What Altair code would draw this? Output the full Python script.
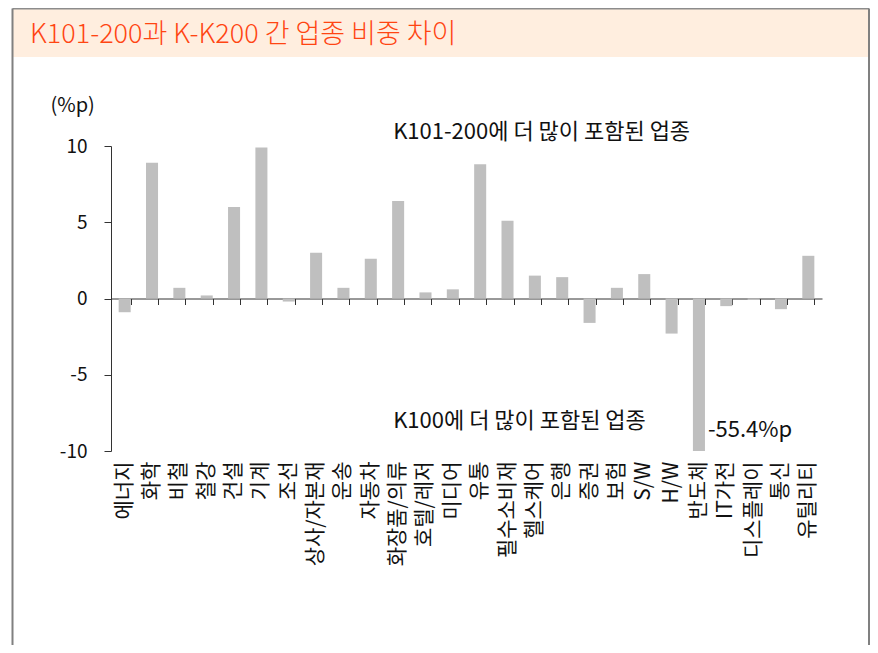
import altair as alt
import pandas as pd

title_text = "K101-200과 K-K200 간 업종 비중 차이"
categories = ["에너지", "화학", "비철", "철강", "건설", "기계", "조선", "상사/자본재", "운송",
              "자동차", "화장품/의류", "호텔/레저", "미디어", "유통", "필수소비재", "헬스케어",
              "은행", "증권", "보험", "S/W", "H/W", "반도체", "IT가전", "디스플레이", "통신", "유틸리티"]
values = [-0.9, 8.9, 0.7, 0.2, 6.0, 9.9, -0.2, 3.0, 0.7,
          2.6, 6.4, 0.4, 0.6, 8.8, 5.1, 1.5,
          1.4, -1.6, 0.7, 1.6, -2.3, -55.4, -0.5, -0.1, -0.7, 2.8]
y_ticks = [-10, -5, 0, 5, 10]

ann_text = ["K101-200에 더 많이 포함된 업종", "K100에 더 많이 포함된 업종", "-55.4%p"]
ann_cat = ["화장품/의류", "화장품/의류", "반도체"]
ann_val = [10.9, -8.0, -8.6]
ann_dx = [-5, -5, 9]

FONT = "Noto Sans CJK KR"
df = pd.DataFrame({"cat": categories, "value": values})
ann = pd.DataFrame({"cat": ann_cat, "value": ann_val, "text": ann_text, "dx": ann_dx})

W, H = 711, 305

y_enc = alt.Y("value:Q", scale=alt.Scale(domain=[-10, 10], nice=False, zero=False),
              axis=alt.Axis(values=y_ticks, title="(%p)", titleAngle=0, titleX=-61, titleY=-41,
                            titleAlign="left", titleBaseline="middle", titleFontSize=20,
                            titleFont=FONT, titleFontWeight="normal", titleColor="#111",
                            labelFont=FONT, labelFontSize=19, labelColor="#111",
                            labelExpr="'' + datum.value",
                            labelPadding=17, tickSize=7, tickColor="#333", domainColor="#333",
                            grid=False))

bars = alt.Chart(df).mark_bar(color="#BFBFBF", clip=True).encode(
    x=alt.X("cat:N", sort=categories, scale=alt.Scale(paddingInner=0.56, paddingOuter=0.28),
            axis=alt.Axis(orient="bottom", title=None, labelAngle=270, labelFont=FONT,
                          labelFontSize=21, labelColor="#111", labelPadding=10,
                          ticks=False, tickSize=0, domain=False, grid=False)),
    y=y_enc,
)

zero_axis = alt.Chart(df).mark_bar(opacity=0).encode(
    x=alt.X("cat:N", sort=categories,
            axis=alt.Axis(orient="bottom", offset=-H / 2, title=None, labels=False,
                          ticks=True, tickBand="extent", tickSize=6, tickColor="#333",
                          domain=True, domainColor="#333", grid=False)),
    y=y_enc,
)

ann_layers = []
for i in range(len(ann_text)):
    ann_layers.append(
        alt.Chart(ann.iloc[[i]]).mark_text(align="left", baseline="middle", font=FONT,
                                           fontSize=22, color="#111", dx=int(ann_dx[i])).encode(
            x=alt.X("cat:N", sort=categories, axis=None),
            y=y_enc,
            text="text:N",
        )
    )

one = alt.Data(values=[{}])
banner = alt.Chart(one).mark_rect(color="#FFEEDF").encode(
    x=alt.value(-98), x2=alt.value(758), y=alt.value(-137), y2=alt.value(-89))
frame_top = alt.Chart(one).mark_rule(color="#8C8C8C", strokeWidth=2).encode(
    x=alt.value(-98.5), x2=alt.value(758), y=alt.value(-137.5))
frame_left = alt.Chart(one).mark_rule(color="#808080", strokeWidth=2).encode(
    x=alt.value(-98.5), y=alt.value(-137.5), y2=alt.value(H + 194))
frame_right = alt.Chart(one).mark_rule(color="#808080", strokeWidth=2).encode(
    x=alt.value(758), y=alt.value(-137.5), y2=alt.value(H + 194))
title = alt.Chart(one).mark_text(text=title_text, align="left", baseline="middle",
                                 font=FONT, fontSize=27, fontWeight=300,
                                 color="#FF4512").encode(
    x=alt.value(-81), y=alt.value(-111))

chart = alt.layer(banner, frame_top, frame_left, frame_right, title,
                  zero_axis, bars, *ann_layers).resolve_axis(x="independent").properties(
    width=W, height=H,
    autosize=alt.AutoSizeParams(type="none"),
    padding={"left": 103, "top": 138, "right": 48, "bottom": 194},
).configure_view(stroke=None)

chart.save("out.html", embed_options={"renderer": "svg", "actions": False})
